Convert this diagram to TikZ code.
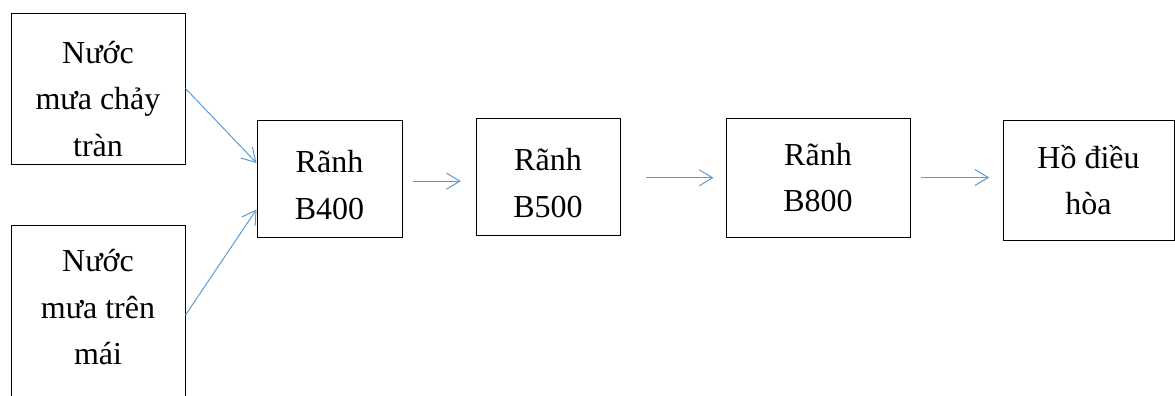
\documentclass[tikz,border=0pt]{standalone}
\usepackage{fontspec}
\setmainfont{Liberation Serif}
\usepackage{xcolor}
\usepackage{tikz}
\usetikzlibrary{arrows.meta,calc}
\definecolor{flowblue}{RGB}{91,155,213}
\newcommand{\topgap}[1]{\rule{0pt}{#1}}

\begin{document}
\begin{tikzpicture}[x=0.75pt, y=-0.75pt,
    box/.style={draw, line width=0.75pt, align=center, inner sep=0pt,
        font=\fontsize{24}{35}\selectfont},
    flow/.style={draw=flowblue, line width=0.75pt,
        -{Straight Barb[length=10pt, width=12pt, line width=0.75pt]}}]
    \useasboundingbox (0,0) rectangle (1175,396);

    % sources
    \node[box, minimum width=130.5pt, minimum height=113.25pt] (rain1) at (98,88.5) {\topgap{32pt}Nước\\mưa chảy\\tràn};
    \node[box, minimum width=130.5pt, minimum height=135pt, text depth=12pt] (rain2) at (98,315) {Nước\\mưa trên\\mái};

    % drains and lake
    \node[box, minimum width=108.75pt, minimum height=87.75pt] (b400) at (329.5,178.5) {\topgap{26pt}Rãnh\\B400};
    \node[box, minimum width=108pt, minimum height=87.75pt] (b500) at (548,176.5) {\topgap{26pt}Rãnh\\B500};
    \node[box, minimum width=138pt, minimum height=89.25pt] (b800) at (818,177.5) {Rãnh\\B800};
    \node[box, minimum width=128.25pt, minimum height=90pt] (lake) at (1088.5,180) {Hồ điều\\hòa};

    % flows
    \draw[flow] (rain1.east) -- (b400.168);
    \draw[flow] (rain2.east) -- (b400.203);
    \draw[flow, shorten <=8pt, shorten >=11pt] ([yshift=-2pt]b400.east) -- ([yshift=-2pt]b400.east -| b500.west);
    \draw[flow, shorten <=19pt, shorten >=9pt] ([yshift=-1pt]b500.east) -- ([yshift=-1pt]b500.east -| b800.west);
    \draw[flow, shorten <=8pt, shorten >=10pt] (b800.east) -- (b800.east -| lake.west);
\end{tikzpicture}
\end{document}
